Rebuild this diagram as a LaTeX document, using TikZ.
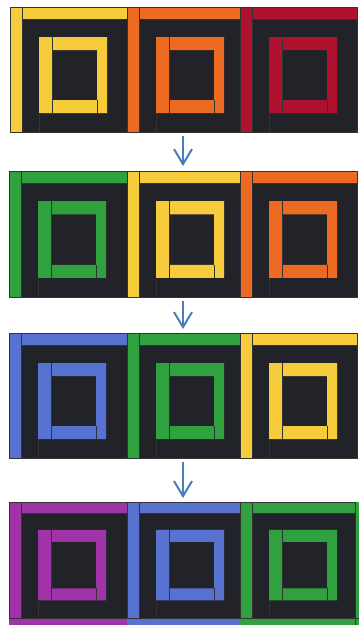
\documentclass[tikz,border=0pt]{standalone}
\usetikzlibrary{arrows.meta}
\definecolor{qdark}{HTML}{222329}
\definecolor{qyellow}{HTML}{F6CB3C}
\definecolor{qorange}{HTML}{EC6A22}
\definecolor{qred}{HTML}{B0112F}
\definecolor{qgreen}{HTML}{2FA23F}
\definecolor{qblue}{HTML}{5872D2}
\definecolor{qpurple}{HTML}{A033A8}
\definecolor{arrowblue}{HTML}{4A7EBB}
\tikzset{
  piece line/.style={draw=black!80, line width=0.5pt},
  flowarrow/.style={draw=arrowblue, line width=2pt, -{Straight Barb[length=15pt,width=18pt,line width=2pt]}}
}
\newcommand{\qblock}[5]{%
  \fill[qdark] (#1,#2) rectangle ++(#3,#4);
  \fill[#5] (#1,#2) rectangle ++(12,#4);
  \fill[#5] ({#1+12},#2) rectangle ({#1+#3},{#2+12*#4/125});
  \fill[#5,even odd rule] ({#1+29},{#2+30*#4/125}) rectangle ({#1+97},{#2+106*#4/125})
        ({#1+42},{#2+43*#4/125}) rectangle ({#1+87},{#2+93*#4/125});
  \draw[piece line] ({#1+12},#2) -- ({#1+12},{#2+#4});
  \draw[piece line] ({#1+12},{#2+12*#4/125}) -- ({#1+#3},{#2+12*#4/125});
  \draw[piece line] ({#1+42},{#2+30*#4/125}) -- ({#1+42},{#2+106*#4/125});
  \draw[piece line] ({#1+87},{#2+93*#4/125}) -- ({#1+87},{#2+106*#4/125});
  \draw[piece line] ({#1+29},{#2+106*#4/125}) -- ({#1+29},{#2+#4});
  \draw[piece line] (#1,#2) rectangle ++(#3,#4);
}
\begin{document}
\begin{tikzpicture}[x=1pt,y=-1pt]
\useasboundingbox (0,0) rectangle (359,625);
% row 1
\qblock{10}{7}{117}{125}{qyellow}
\qblock{127}{7}{113}{125}{qorange}
\qblock{240}{7}{117}{125}{qred}
% row 2
\qblock{9}{171}{118}{126}{qgreen}
\qblock{127}{171}{113}{126}{qyellow}
\qblock{240}{171}{117}{126}{qorange}
% row 3
\qblock{9}{333}{118}{125}{qblue}
\qblock{127}{333}{113}{125}{qgreen}
\qblock{240}{333}{117}{125}{qyellow}
% row 4
\qblock{9}{502}{118}{116}{qpurple}
\qblock{127}{502}{113}{116}{qblue}
\qblock{240}{502}{115}{116}{qgreen}
\fill[qpurple] (9,618) rectangle (127,625);
\fill[qblue] (127,618) rectangle (240,625);
\fill[qgreen] (240,618) rectangle (355,625);
\fill[qgreen] (355,502) rectangle (359,625);
\draw[piece line] (9,618) -- (359,618);
\draw[piece line] (355,502) -- (355,625);
% arrows
\coordinate (a1s) at (183,136);
\coordinate (a1e) at (183,166);
\coordinate (a2s) at (183,301);
\coordinate (a2e) at (183,329);
\coordinate (a3s) at (183,462);
\coordinate (a3e) at (183,498);
\draw[flowarrow] (a1s) -- (a1e);
\draw[flowarrow] (a2s) -- (a2e);
\draw[flowarrow] (a3s) -- (a3e);
\end{tikzpicture}
\end{document}
